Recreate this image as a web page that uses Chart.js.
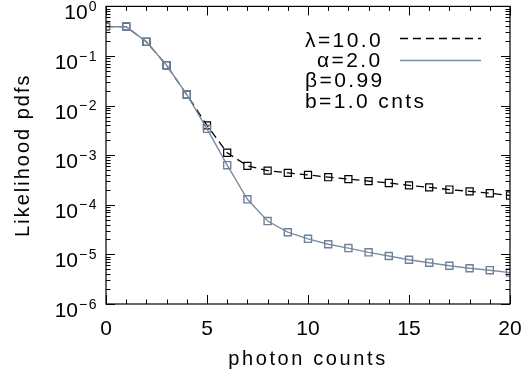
<!DOCTYPE html>
<html>
<head>
<meta charset="utf-8">
<script src="https://cdn.jsdelivr.net/npm/chart.js@4.4.1/dist/chart.umd.min.js"></script>
<style>
  html, body { margin: 0; padding: 0; background: #fff; }
</style>
</head>
<body>
<canvas id="chart" width="527" height="372"></canvas>
<script>
// photon counts on the x axis
const photonCounts = [0, 1, 2, 3, 4, 5, 6, 7, 8, 9, 10, 11, 12, 13, 14, 15, 16, 17, 18, 19, 20];
// lambda=10.0 (dashed, black)
const lambdaPdf = [0.39, 0.39, 0.193, 0.065, 0.0166, 0.004, 1.12e-3, 6.1e-4, 4.9e-4, 4.4e-4, 4.0e-4,
  3.6e-4, 3.3e-4, 3.0e-4, 2.75e-4, 2.47e-4, 2.25e-4, 2.03e-4, 1.87e-4, 1.71e-4, 1.54e-4];
// alpha=2.0 (solid, grey blue)
const alphaPdf = [0.39, 0.39, 0.193, 0.065, 0.0166, 0.0034, 6.3e-4, 1.29e-4, 4.7e-5, 2.8e-5, 2.06e-5,
  1.6e-5, 1.34e-5, 1.1e-5, 9.3e-6, 7.8e-6, 6.8e-6, 5.9e-6, 5.25e-6, 4.8e-6, 4.3e-6];

const xTickLabels = [0, 5, 10, 15, 20];
const yDecades = [0, -1, -2, -3, -4, -5, -6];
const legendLines = ["λ=10.0", "α=2.0"];
const legendNotes = ["β=0.99", "b=1.0 cnts"];

const FONT = "'Liberation Sans', Arial, sans-serif";
const GREY = "#7d8da3";

const axesPlugin = {
  id: "idlAxes",
  afterDraw(chart) {
    const ctx = chart.ctx;
    const a = chart.chartArea;
    const xs = chart.scales.x, ys = chart.scales.y;
    ctx.save();
    ctx.strokeStyle = "#000";
    ctx.lineWidth = 1.2;
    ctx.strokeRect(a.left, a.top, a.right - a.left, a.bottom - a.top);

    // inward ticks, x
    ctx.lineWidth = 1;
    ctx.beginPath();
    for (let v = xs.min; v <= xs.max; v++) {
      const px = Math.round(xs.getPixelForValue(v)) + 0.5;
      const len = xTickLabels.includes(v) ? 9 : 4.5;
      ctx.moveTo(px, a.bottom); ctx.lineTo(px, a.bottom - len);
      ctx.moveTo(px, a.top); ctx.lineTo(px, a.top + len);
    }
    // inward ticks, y (log)
    yDecades.forEach(e => {
      for (let m = 1; m <= 9; m++) {
        const val = m * Math.pow(10, e);
        if (val > ys.max * 1.0001) continue;
        const py = Math.round(ys.getPixelForValue(val)) + 0.5;
        const len = m === 1 ? 9 : 4.5;
        ctx.moveTo(a.left, py); ctx.lineTo(a.left + len, py);
        ctx.moveTo(a.right, py); ctx.lineTo(a.right - len, py);
      }
    });
    ctx.stroke();

    ctx.fillStyle = "#000";
    ctx.textBaseline = "alphabetic";

    // x tick labels
    ctx.font = "21px " + FONT;
    ctx.textAlign = "center";
    xTickLabels.forEach(v => {
      ctx.fillText(String(v), xs.getPixelForValue(v), a.bottom + 31);
    });

    // y tick labels 10^e
    ctx.textAlign = "left";
    yDecades.forEach(e => {
      const py = ys.getPixelForValue(Math.pow(10, e));
      const exp = e === 0 ? "0" : "\u2212" + Math.abs(e);
      ctx.font = "14px " + FONT;
      ctx.letterSpacing = "1.5px";
      const ew = ctx.measureText(exp).width;
      ctx.font = "21px " + FONT;
      ctx.letterSpacing = "0px";
      const tw = ctx.measureText("10").width;
      const right = 98;
      ctx.fillText("10", right - ew - tw - 1, py + 13);
      ctx.font = "14px " + FONT;
      ctx.letterSpacing = "1.5px";
      ctx.fillText(exp, right - ew, py + 4.5);
    });

    // axis titles
    ctx.letterSpacing = "2.6px";
    ctx.font = "20px " + FONT;
    ctx.textAlign = "center";
    ctx.fillText("photon counts", (a.left + a.right) / 2, 365);
    ctx.save();
    ctx.translate(29, (a.top + a.bottom) / 2);
    ctx.rotate(-Math.PI / 2);
    ctx.letterSpacing = "2px";
    ctx.fillText("Likelihood pdfs", 0, 0);
    ctx.restore();

    // legend
    ctx.letterSpacing = "2.4px";
    ctx.font = "21px " + FONT;
    ctx.textAlign = "left";
    ctx.fillText(legendLines[0], 305, 46.5);
    ctx.fillText(legendLines[1], 317, 66.5);
    ctx.fillText(legendNotes[0], 305, 86.5);
    ctx.fillText(legendNotes[1], 305, 107.5);

    ctx.lineWidth = 1.4;
    ctx.strokeStyle = "#000";
    ctx.setLineDash([8, 5]);
    ctx.beginPath();
    ctx.moveTo(400, 38.5); ctx.lineTo(481, 38.5);
    ctx.stroke();
    ctx.setLineDash([]);
    ctx.strokeStyle = GREY;
    ctx.lineWidth = 1.6;
    ctx.beginPath();
    ctx.moveTo(400, 60.5); ctx.lineTo(481, 60.5);
    ctx.stroke();
    ctx.restore();
  }
};

new Chart(document.getElementById("chart"), {
  type: "line",
  data: {
    datasets: [
      {
        label: "α=2.0",
        data: photonCounts.map((c, i) => ({ x: c, y: alphaPdf[i] })),
        borderColor: GREY,
        borderWidth: 1.4,
        pointStyle: "rect",
        pointRadius: 5,
        pointBorderWidth: 1.4,
        pointBorderColor: "#6f8199",
        pointBackgroundColor: "rgba(0,0,0,0)",
        tension: 0
      },
      {
        label: "λ=10.0",
        data: photonCounts.map((c, i) => ({ x: c, y: lambdaPdf[i] })),
        borderColor: "#000",
        borderWidth: 1.3,
        borderDash: [8, 5],
        pointStyle: "rect",
        pointRadius: 5,
        pointBorderWidth: 1.2,
        pointBorderColor: "#000",
        pointBackgroundColor: "rgba(0,0,0,0)",
        tension: 0
      }
    ]
  },
  options: {
    responsive: false,
    animation: false,
    devicePixelRatio: 1,
    layout: { padding: { top: 4, right: 17, bottom: 0, left: 0 } },
    plugins: { legend: { display: false }, tooltip: { enabled: false } },
    scales: {
      x: {
        type: "linear",
        min: 0,
        max: 20,
        ticks: { display: false, stepSize: 5 },
        grid: { display: false, drawTicks: false },
        border: { display: false },
        afterFit: s => { s.height = 68; }
      },
      y: {
        type: "logarithmic",
        min: 1e-6,
        max: 1,
        ticks: { display: false },
        grid: { display: false, drawTicks: false },
        border: { display: false },
        afterFit: s => { s.width = 106; }
      }
    }
  },
  plugins: [axesPlugin]
});
</script>
</body>
</html>
